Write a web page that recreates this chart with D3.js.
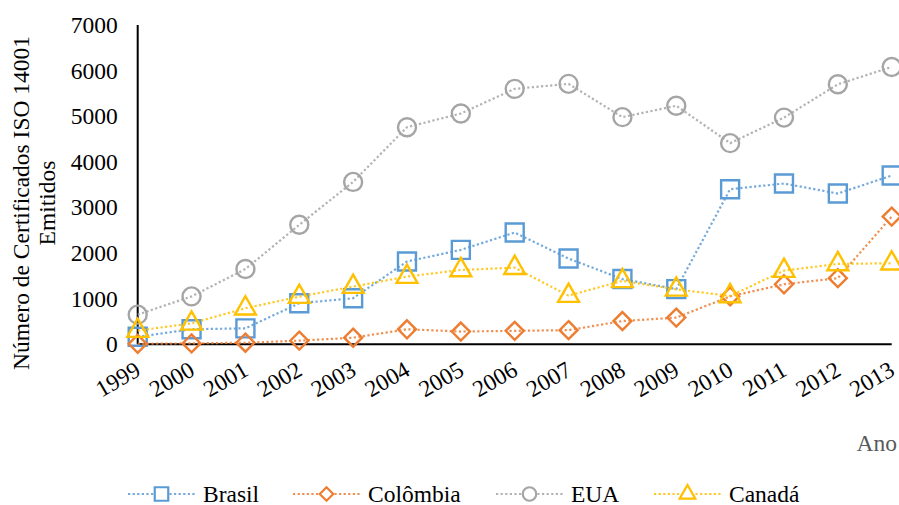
<!DOCTYPE html>
<html>
<head>
<meta charset="utf-8">
<script src="https://cdn.jsdelivr.net/npm/d3@7/dist/d3.min.js"></script>
<style>
  html, body { margin: 0; padding: 0; background: #fff; }
  svg, svg text { font-family: "Liberation Serif", "Times New Roman", serif; }
</style>
</head>
<body>
<svg id="chart" width="899" height="505"></svg>
<script>
// Certificados ISO 14001 emitidos por país, 1999–2013
const years = ["1999","2000","2001","2002","2003","2004","2005","2006","2007","2008","2009","2010","2011","2012","2013"];
const brasil   = [165, 330, 350, 900, 1010, 1815, 2070, 2450, 1880, 1430, 1210, 3400, 3525, 3305, 3700];
const colombia = [10, 20, 35, 80, 145, 329, 280, 295, 310, 510, 585, 1050, 1316, 1450, 2800];
const eua      = [650, 1050, 1650, 2620, 3560, 4760, 5060, 5600, 5710, 4980, 5230, 4410, 4970, 5700, 6080];
const canada   = [300, 460, 790, 1045, 1265, 1485, 1630, 1680, 1067, 1390, 1205, 1060, 1615, 1762, 1777];
const yTicks   = [0, 1000, 2000, 3000, 4000, 5000, 6000, 7000];

const seriesNames  = ["Brasil", "Colômbia", "EUA", "Canadá"];
const seriesValues = [brasil, colombia, eua, canada];
const seriesColors = ["#5B9BD5", "#ED7D31", "#A5A5A5", "#FFC000"];
const seriesShapes = ["square", "diamond", "circle", "triangle"];

const FONT = '"Liberation Serif", "Times New Roman", serif';
const FS = "23.5px";

const svg = d3.select("#chart");

const x = d3.scalePoint().domain(years).range([137.7, 891.7]);
const y = d3.scaleLinear().domain([0, 7000]).range([344.3, 25]);

// marker path generators, centred on the origin
function markerPath(shape, s) {
  const h = s / 2;
  if (shape === "square") return `M${-h},${-h}H${h}V${h}H${-h}Z`;
  if (shape === "diamond") return `M0,${-h}L${h},0L0,${h}L${-h},0Z`;
  if (shape === "triangle") {
    const r = s * 0.58;
    return `M0,${-r*1.15}L${r},${r*0.6}L${-r},${r*0.6}Z`;
  }
  // circle
  return `M${-h},0A${h},${h} 0 1,0 ${h},0A${h},${h} 0 1,0 ${-h},0Z`;
}

// y axis labels
const yAxis = d3.axisLeft(y).tickValues(yTicks).tickFormat(d3.format("d")).tickSize(0).tickPadding(20);
const gy = svg.append("g").attr("transform", "translate(137.7,0)").call(yAxis)
  .attr("font-family", null).attr("font-size", null);
gy.select(".domain").remove();
gy.selectAll("text")
  .style("font-family", FONT)
  .style("font-size", FS)
  .attr("fill", "#000");

// x axis labels (rotated)
const xAxis = d3.axisBottom(x).tickSize(0);
const gx = svg.append("g").attr("transform", "translate(0,344.3)").call(xAxis)
  .attr("font-family", null).attr("font-size", null);
gx.select(".domain").remove();
gx.selectAll("text")
  .style("font-family", FONT)
  .style("font-size", FS)
  .attr("fill", "#000")
  .attr("text-anchor", "end")
  .attr("dy", null)
  .attr("y", 0)
  .attr("transform", "translate(4,30) rotate(-30)");

// axis lines
svg.append("line").attr("x1", x(years[0])).attr("x2", x(years[0]))
  .attr("y1", y(7000)).attr("y2", y(0)).attr("stroke", "#000").attr("stroke-width", 2);
svg.append("line").attr("x1", x(years[0])).attr("x2", x(years[years.length-1]))
  .attr("y1", y(0)).attr("y2", y(0)).attr("stroke", "#000").attr("stroke-width", 2);

// series lines and markers
const line = d3.line().x((d, i) => x(years[i])).y(d => y(d));
seriesValues.forEach((vals, k) => {
  const g = svg.append("g");
  g.append("path")
    .attr("d", line(vals))
    .attr("fill", "none")
    .attr("stroke", seriesColors[k])
    .attr("stroke-width", 2.2)
    .attr("stroke-dasharray", "2.2 2.4")
    .attr("opacity", 0.85);
  g.selectAll("path.mk").data(vals).join("path")
    .attr("class", "mk")
    .attr("transform", (d, i) => `translate(${x(years[i])},${y(d)})`)
    .attr("d", markerPath(seriesShapes[k], 18))
    .attr("fill", "none")
    .attr("stroke", seriesColors[k])
    .attr("stroke-width", 2.4);
});

// y axis title
const yTitle = svg.append("text")
  .attr("transform", "translate(29,203) rotate(-90)")
  .attr("text-anchor", "middle")
  .style("font-family", FONT)
  .style("font-size", FS)
  .attr("fill", "#000");
yTitle.append("tspan").attr("x", 0).attr("dy", 0).text("Número de Certificados ISO 14001");
yTitle.append("tspan").attr("x", 0).attr("dy", 26).text("Emitidos");

// x axis title
svg.append("text")
  .attr("x", 897).attr("y", 451)
  .attr("text-anchor", "end")
  .style("font-family", FONT)
  .style("font-size", FS)
  .attr("fill", "#595959")
  .text("Ano");

// legend
const legendX = [128, 293, 496, 654];
const legendY = 494;
seriesNames.forEach((name, k) => {
  const g = svg.append("g").attr("transform", `translate(${legendX[k]},${legendY})`);
  g.append("line").attr("x1", 0).attr("x2", 67).attr("y1", 0).attr("y2", 0)
    .attr("stroke", seriesColors[k]).attr("stroke-width", 2.2)
    .attr("stroke-dasharray", "2.2 2.4").attr("opacity", 0.85);
  g.append("path").attr("transform", "translate(33.5,0)")
    .attr("d", markerPath(seriesShapes[k], 13.5))
    .attr("fill", "#fff").attr("stroke", seriesColors[k]).attr("stroke-width", 2.2);
  g.append("text").attr("x", 75).attr("y", 8)
    .style("font-family", FONT)
    .style("font-size", FS)
    .attr("fill", "#000").text(name);
});
</script>
</body>
</html>
